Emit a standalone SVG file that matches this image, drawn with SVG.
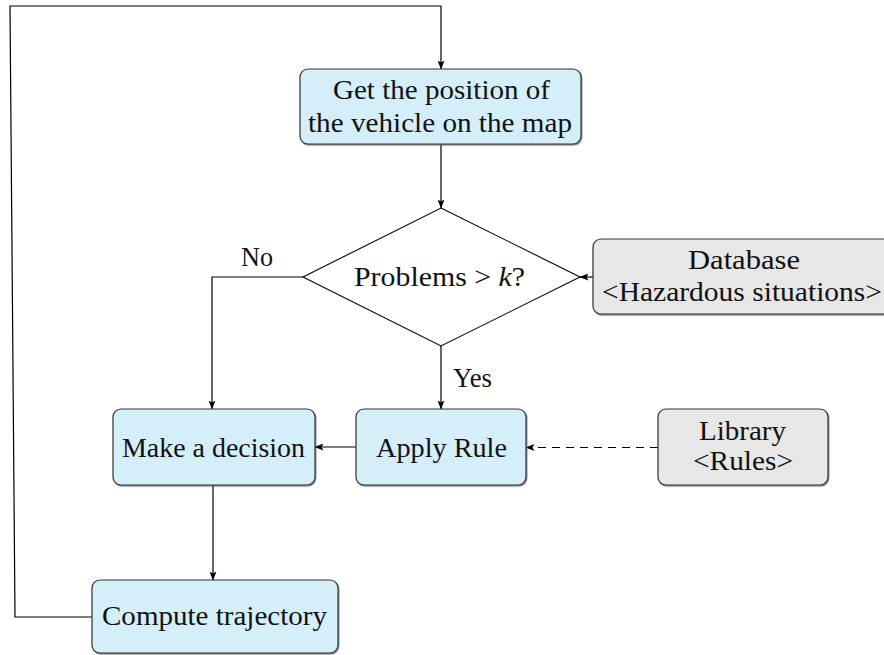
<svg xmlns="http://www.w3.org/2000/svg" width="884" height="655" viewBox="0 0 884 655">
<defs>
<marker id="arr" markerWidth="9" markerHeight="7" refX="8.5" refY="3.5" orient="auto" markerUnits="userSpaceOnUse">
<path d="M0,0 L9,3.5 L0,7 L2,3.5 z" fill="#000"/>
</marker>
<filter id="sh" x="-5%" y="-5%" width="110%" height="115%">
<feDropShadow dx="0.8" dy="1.2" stdDeviation="0.6" flood-color="#555" flood-opacity="0.7"/>
</filter>
</defs>
<style>
.blue{fill:#d5effa;stroke:#333;stroke-width:1.2}
.gray{fill:#e7e7e7;stroke:#333;stroke-width:1.2}
.t{font-family:"Liberation Serif","DejaVu Serif",serif;font-size:27px;fill:#111}
.c{text-anchor:middle}
.ln{fill:none;stroke:#000;stroke-width:1.2}
</style>
<g id="connectors">
<path class="ln" d="M441,144 L441,208" marker-end="url(#arr)"/>
<path class="ln" d="M593,277 L580,277" marker-end="url(#arr)"/>
<path class="ln" d="M303,277 L212,277 L212,409" marker-end="url(#arr)"/>
<path class="ln" d="M441,346 L441,409" marker-end="url(#arr)"/>
<path class="ln" d="M356,447 L315,447" marker-end="url(#arr)"/>
<path class="ln" d="M658,447.5 L526,447.5" stroke-dasharray="8,6" marker-end="url(#arr)"/>
<path class="ln" d="M213,485 L213,580" marker-end="url(#arr)"/>
<path class="ln" d="M92,617 L15,617 L10,6 L441,6 L441,69" marker-end="url(#arr)"/>
<text class="t c" x="257" y="266" textLength="32" lengthAdjust="spacingAndGlyphs">No</text>
<text class="t" x="453" y="387" textLength="39" lengthAdjust="spacingAndGlyphs">Yes</text>
</g>
<g id="node-position">
<rect class="blue" x="300" y="69" width="281" height="75" rx="8" filter="url(#sh)"/>
<text class="t c" x="441.5" y="99" textLength="217" lengthAdjust="spacingAndGlyphs">Get the position of</text>
<text class="t c" x="440" y="132" textLength="264" lengthAdjust="spacingAndGlyphs">the vehicle on the map</text>
</g>
<g id="node-decision-diamond">
<polygon points="441,208 580,277 441,346 303,277" fill="#fff" stroke="#000" stroke-width="1.1"/>
<text class="t c" x="439.5" y="286" textLength="171" lengthAdjust="spacingAndGlyphs">Problems &gt; <tspan font-style="italic">k</tspan>?</text>
</g>
<g id="node-database">
<rect class="gray" x="593" y="239" width="305" height="75" rx="8" filter="url(#sh)"/>
<text class="t c" x="744" y="269" textLength="112" lengthAdjust="spacingAndGlyphs">Database</text>
<text class="t" x="602" y="301" textLength="280" lengthAdjust="spacingAndGlyphs">&lt;Hazardous situations&gt;</text>
</g>
<g id="node-make-decision">
<rect class="blue" x="113" y="409" width="202" height="76" rx="8" filter="url(#sh)"/>
<text class="t c" x="213.5" y="457" textLength="183" lengthAdjust="spacingAndGlyphs">Make a decision</text>
</g>
<g id="node-apply-rule">
<rect class="blue" x="356" y="409" width="170" height="76" rx="8" filter="url(#sh)"/>
<text class="t c" x="441.5" y="457" textLength="131" lengthAdjust="spacingAndGlyphs">Apply Rule</text>
</g>
<g id="node-library">
<rect class="gray" x="658" y="409" width="170" height="76" rx="8" filter="url(#sh)"/>
<text class="t c" x="742.5" y="440" textLength="87" lengthAdjust="spacingAndGlyphs">Library</text>
<text class="t c" x="743" y="470" textLength="100" lengthAdjust="spacingAndGlyphs">&lt;Rules&gt;</text>
</g>
<g id="node-compute">
<rect class="blue" x="92" y="580" width="246" height="73" rx="8" filter="url(#sh)"/>
<text class="t c" x="214.5" y="625" textLength="225" lengthAdjust="spacingAndGlyphs">Compute trajectory</text>
</g>
</svg>
